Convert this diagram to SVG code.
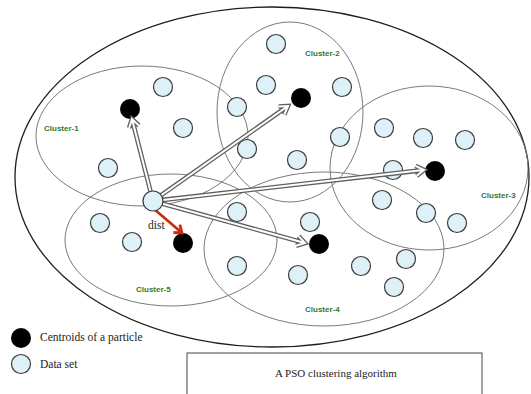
<svg xmlns="http://www.w3.org/2000/svg" width="531" height="394" viewBox="0 0 531 394">
  <style>
    .bg { fill: #ffffff; }
    .outer { fill: none; stroke: #1e1e1e; stroke-width: 1.3; }
    .cluster { fill: none; stroke: #7a7a7a; stroke-width: 1; }
    .pt { fill: #dff1f8; stroke: #3a3a3a; stroke-width: 1.2; }
    .cen { fill: #000000; }
    .clabel { font-family: "Liberation Sans", Arial, sans-serif; font-weight: bold; font-size: 8px; fill: #2f7a2a; }
    .serif { font-family: "Liberation Serif", "Times New Roman", serif; fill: #222222; }
    .arrow-out { fill: none; stroke: #606060; stroke-width: 4.6; stroke-linejoin: miter; stroke-linecap: butt; }
    .arrow-in { fill: none; stroke: #ffffff; stroke-width: 2; stroke-linejoin: miter; stroke-linecap: butt; }
    .red { fill: none; stroke: #d02a10; stroke-width: 2.8; stroke-linejoin: miter; }
    .box { fill: #ffffff; stroke: #444444; stroke-width: 1; }
  </style>
  <defs>
    <!-- hollow arrows from the sample point to each centroid -->
    <path id="a1" d="M150.5,191.3 L132.2,119.8 M138.8,125.5 L132,119 L129.1,128"/>
    <path id="a2" d="M161.2,195.2 L287.3,106.5 M284.3,114.7 L288,106 L278.6,106.5"/>
    <path id="a3" d="M162.9,199.9 L423,170.1 M416.6,175.9 L424,170 L415.5,165.9"/>
    <path id="a4" d="M162.6,203.7 L304,242.7 M296,245.7 L305,243 L298.6,236.1"/>
  </defs>

  <rect class="bg" x="0" y="0" width="531" height="394"/>

  <!-- search space -->
  <ellipse id="space" class="outer" cx="272" cy="177" rx="257" ry="170"/>

  <!-- clusters -->
  <g id="cluster-1">
    <ellipse class="cluster" cx="142" cy="136" rx="106" ry="70"/>
    <text class="clabel" x="44" y="131">Cluster-1</text>
  </g>
  <g id="cluster-2">
    <ellipse class="cluster" cx="290" cy="112" rx="73" ry="90"/>
    <text class="clabel" x="305" y="56">Cluster-2</text>
  </g>
  <g id="cluster-3">
    <ellipse class="cluster" cx="429" cy="168" rx="99" ry="82"/>
    <text class="clabel" x="481" y="198">Cluster-3</text>
  </g>
  <g id="cluster-4">
    <ellipse class="cluster" cx="324" cy="249" rx="120" ry="77"/>
    <text class="clabel" x="305" y="312">Cluster-4</text>
  </g>
  <g id="cluster-5">
    <ellipse class="cluster" cx="171" cy="240" rx="106" ry="66"/>
    <text class="clabel" x="136" y="292">Cluster-5</text>
  </g>

  <!-- data points -->
  <g id="data">
    <circle class="pt" cx="163" cy="87" r="9.5"/>
    <circle class="pt" cx="183" cy="128" r="9.5"/>
    <circle class="pt" cx="108" cy="168" r="9.5"/>
    <circle class="pt" cx="237" cy="107" r="9.5"/>
    <circle class="pt" cx="247" cy="149" r="9.5"/>
    <circle class="pt" cx="276" cy="44" r="9.5"/>
    <circle class="pt" cx="266" cy="85" r="9.5"/>
    <circle class="pt" cx="342" cy="87" r="9.5"/>
    <circle class="pt" cx="340" cy="137" r="9.5"/>
    <circle class="pt" cx="297" cy="160" r="9.5"/>
    <circle class="pt" cx="384" cy="128" r="9.5"/>
    <circle class="pt" cx="423" cy="138" r="9.5"/>
    <circle class="pt" cx="465" cy="140" r="9.5"/>
    <circle class="pt" cx="393" cy="170" r="9.5"/>
    <circle class="pt" cx="382" cy="200" r="9.5"/>
    <circle class="pt" cx="426" cy="213" r="9.5"/>
    <circle class="pt" cx="457" cy="223" r="9.5"/>
    <circle class="pt" cx="100" cy="223" r="9.5"/>
    <circle class="pt" cx="132" cy="242" r="9.5"/>
    <circle class="pt" cx="237" cy="212" r="9.5"/>
    <circle class="pt" cx="237" cy="266" r="9.5"/>
    <circle class="pt" cx="310" cy="222" r="9.5"/>
    <circle class="pt" cx="298" cy="275" r="9.5"/>
    <circle class="pt" cx="361" cy="266" r="9.5"/>
    <circle class="pt" cx="406" cy="259" r="9.5"/>
    <circle class="pt" cx="394" cy="287" r="9.5"/>
  </g>

  <!-- centroids -->
  <g id="centroids">
    <circle class="cen" cx="130" cy="109" r="10"/>
    <circle class="cen" cx="301" cy="98" r="10"/>
    <circle class="cen" cx="435" cy="171" r="10"/>
    <circle class="cen" cx="319" cy="244" r="10"/>
    <circle class="cen" cx="183" cy="243" r="10"/>
  </g>

  <!-- connectors -->
  <g id="connectors">
    <use href="#a1" class="arrow-out"/>
    <use href="#a2" class="arrow-out"/>
    <use href="#a3" class="arrow-out"/>
    <use href="#a4" class="arrow-out"/>
    <use href="#a1" class="arrow-in"/>
    <use href="#a2" class="arrow-in"/>
    <use href="#a3" class="arrow-in"/>
    <use href="#a4" class="arrow-in"/>
    <path class="red" d="M154,209 L181.5,232.5 M173.4,232.5 L182,233 L179.8,224.7"/>
    <text class="serif" x="148" y="229" font-size="11.5" fill="#333">dist</text>
  </g>

  <!-- sample point -->
  <g id="sample">
    <circle class="pt" cx="153" cy="201" r="10"/>
  </g>

  <!-- legend -->
  <g id="legend-centroid">
    <circle class="cen" cx="21" cy="338" r="10"/>
    <text class="serif" x="40" y="341" font-size="11.5">Centroids of a particle</text>
  </g>
  <g id="legend-data">
    <circle class="pt" cx="21" cy="364" r="9.5"/>
    <text class="serif" x="40" y="368" font-size="11.5">Data set</text>
  </g>

  <!-- caption -->
  <g id="caption">
    <rect class="box" x="187" y="353" width="295" height="50"/>
    <text class="serif" x="275" y="377" font-size="11">A PSO clustering algorithm</text>
  </g>
</svg>
